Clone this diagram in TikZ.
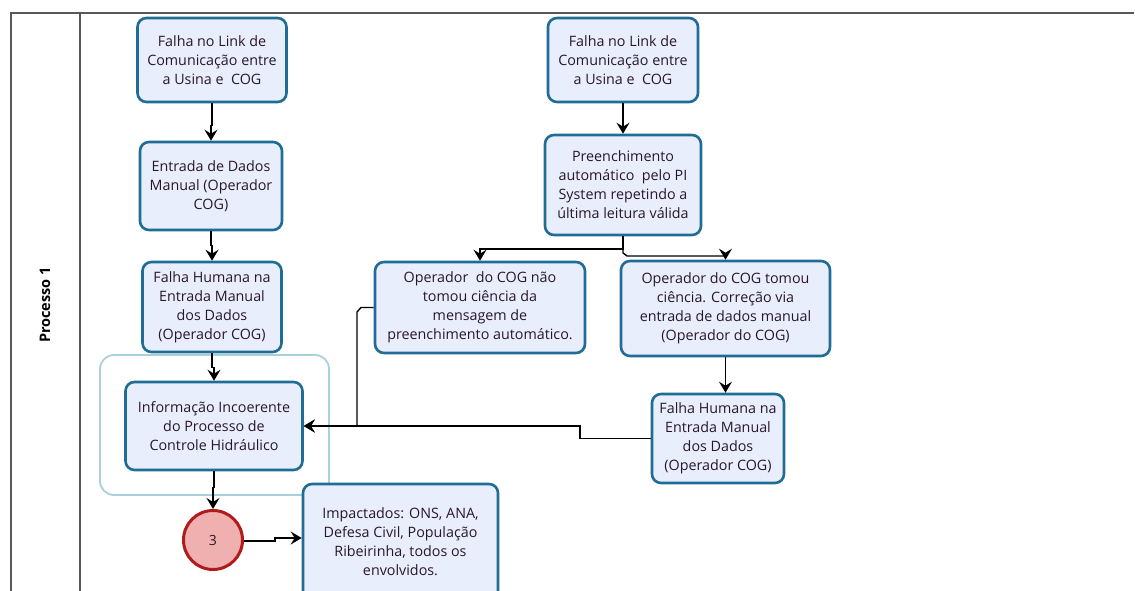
\documentclass[tikz,border=0pt]{standalone}
\usepackage{fontspec}
\setmainfont{Open Sans}
\usetikzlibrary{arrows.meta}
\definecolor{boxline}{RGB}{31,108,148}
\definecolor{boxfill}{RGB}{233,238,252}
\definecolor{grpline}{RGB}{170,208,222}
\definecolor{laneline}{RGB}{88,88,88}
\definecolor{txt}{RGB}{40,22,45}
\definecolor{evfill}{RGB}{240,176,176}
\definecolor{evline}{RGB}{176,28,28}
\tikzset{
  task/.style={draw=boxline, fill=boxfill, line width=2.6pt, rounded corners=9pt,
    align=center, text=txt, inner sep=2pt,
    font=\fontsize{14.3}{19}\selectfont},
  grp/.style={draw=grpline, line width=1.8pt, rounded corners=14pt},
  ev/.style={circle, draw=evline, fill=evfill, line width=3pt, text=txt,
    minimum size=59pt, inner sep=0pt, font=\fontsize{14}{16}\selectfont},
  flow/.style={draw=black, line width=1.4pt, -{Stealth[length=11pt,width=13pt,inset=4pt]}},
  lane/.style={draw=laneline, line width=2.6pt}
}
\begin{document}
\begin{tikzpicture}[x=1pt,y=-1pt]
\useasboundingbox (0,0) rectangle (1135,591);
% pool and lane
\draw[lane] (11,604) -- (11,13) -- (1134,13);
\draw[lane] (80,13) -- (80,604);
\node[rotate=90, font=\bfseries\fontsize{14.5}{16}\selectfont, text=black] (lanelbl) at (45,305) {Processo 1};

% group around the incoherent-information step
\node[grp, minimum width=229pt, minimum height=140pt] (grp) at (214.5,425) {};

% left branch
\node[task, minimum width=149pt, minimum height=84pt] (a1) at (212,60)
  {Falha no Link de\\Comunicação entre\\a Usina e\ \ COG};
\node[task, minimum width=142pt, minimum height=88pt] (a2) at (211,186)
  {Entrada de Dados\\Manual (Operador\\COG)};
\node[task, minimum width=139pt, minimum height=90pt] (a3) at (212,307)
  {Falha Humana na\\Entrada Manual\\dos Dados\\(Operador COG)};
\node[task, minimum width=177pt, minimum height=88pt] (a4) at (214,426)
  {Informação Incoerente\\do Processo de\\Controle Hidráulico};
\node[ev] (e3) at (213,540) {3};
\node[task, minimum width=195pt, minimum height=116pt] (imp) at (400.5,542)
  {Impactados: ONS, ANA,\\Defesa Civil, População\\Ribeirinha, todos os\\envolvidos.};

% right branch
\node[task, minimum width=150pt, minimum height=84pt] (b1) at (623,60)
  {Falha no Link de\\Comunicação entre\\a Usina e\ \ COG};
\node[task, minimum width=156pt, minimum height=100pt] (b2) at (623,185)
  {Preenchimento\\automático\ \ pelo PI\\System repetindo a\\última leitura válida};
\node[task, minimum width=210pt, minimum height=91pt] (b3) at (480,307.5)
  {Operador\ \ do COG não\\tomou ciência da\\mensagem de\\preenchimento automático.};
\node[task, minimum width=209pt, minimum height=95pt] (b4) at (725.5,308.5)
  {Operador do COG tomou\\ciência. Correção via\\entrada de dados manual\\(Operador do COG)};
\node[task, minimum width=132pt, minimum height=89pt] (b5) at (718,438.5)
  {Falha Humana na\\Entrada Manual\\dos Dados\\(Operador COG)};

% bend points of the routed connectors
\coordinate (s1) at (623,249);
\coordinate (s2) at (480,249);
\coordinate (s3) at (623,253);
\coordinate (s4) at (627,256);
\coordinate (s5) at (725.5,256);
\coordinate (m1) at (361,307.5);
\coordinate (m2) at (357,312);
\coordinate (m3) at (357,426);
\coordinate (n1) at (580,438.5);
\coordinate (n2) at (580,426);
\coordinate (c1) at (275,541);
\coordinate (c2) at (275,538);

% connectors
\draw[flow] (a1.south) -- ++(0,22) -| (a2.north);
\draw[flow] (a2.south) -- ++(0,14) -| (a3.north);
\draw[flow] (a3.south) -- ++(0,14) -| (a4.north);
\draw[flow] (a4.south) -- ++(0,16) -| (e3.north);
\draw[flow] (e3.east |- c1) -- (c1) -- (c2) -- (imp.west |- c2);
\draw[flow] (b1.south) -- ++(0,18) -| (b2.north);
\draw[flow] (b2.south) -- (s1) -- (s2) -- (b3.north);
\draw[flow] (b2.south) -- (s3) -- (s4) -- (s5) -- (b4.north);
\draw[flow] (b4.south) -- (b4.south |- b5.north);
\draw[flow] (b3.west) -- (m1) -- (m2) -- (m3) -- (a4.east);
\draw[flow] (b5.west) -- (n1) -- (n2) -- (a4.east);
\end{tikzpicture}
\end{document}
